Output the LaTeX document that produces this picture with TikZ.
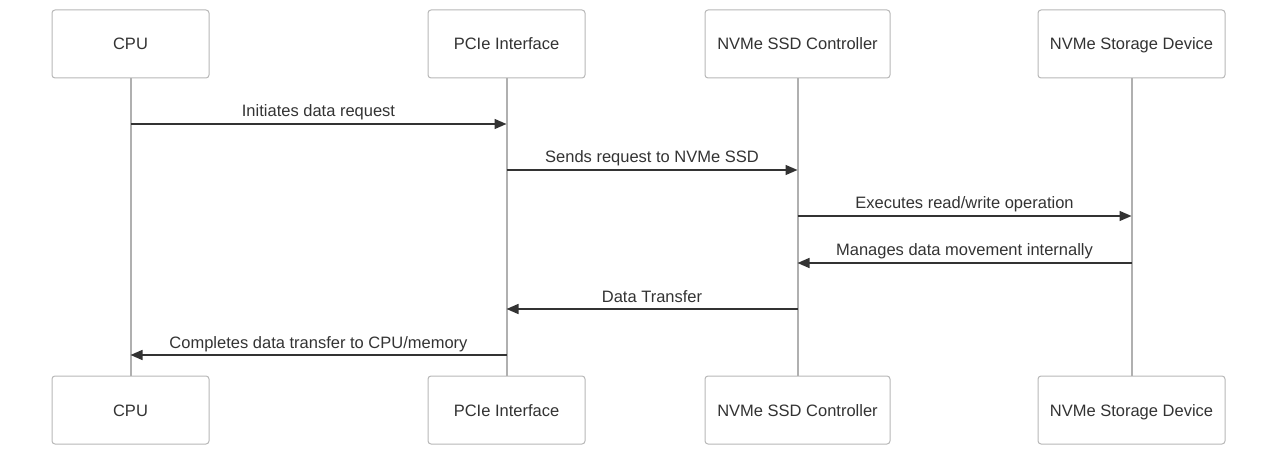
\documentclass[tikz,border=0pt]{standalone}
\usepackage{fontspec}
\setmainfont{Liberation Sans}
\usetikzlibrary{arrows.meta}
\definecolor{txt}{HTML}{333333}
\definecolor{boxline}{HTML}{B8B8B8}
\definecolor{life}{HTML}{B0B0B0}
\definecolor{arr}{HTML}{333333}
\tikzset{
  actor/.style={draw=boxline, line width=1pt, fill=white, rounded corners=3pt, minimum height=68pt, text=txt, font=\fontsize{16.5}{19}\selectfont, inner sep=0pt, text depth=0pt, text height=12pt},
  lifeline/.style={draw=life, line width=2pt},
  msg/.style={draw=arr, line width=1.5pt, -{Triangle[length=12pt,width=10pt]}},
  lbl/.style={text=txt, font=\fontsize{16.5}{19}\selectfont, anchor=base, inner sep=0pt},
}
\begin{document}
\begin{tikzpicture}[x=1pt,y=-1pt]
\useasboundingbox (0,0) rectangle (1280,457);
% top actors
\node[actor, minimum width=157pt] (cpuT) at (130.5,44) {CPU};
\node[actor, minimum width=157pt] (pcieT) at (506.5,44) {PCIe Interface};
\node[actor, minimum width=185pt] (ctrlT) at (797.5,44) {NVMe SSD Controller};
\node[actor, minimum width=187pt] (storT) at (1131.5,44) {NVMe Storage Device};
% bottom actors
\node[actor, minimum width=157pt] (cpuB) at (130.5,410) {CPU};
\node[actor, minimum width=157pt] (pcieB) at (506.5,410) {PCIe Interface};
\node[actor, minimum width=185pt] (ctrlB) at (797.5,410) {NVMe SSD Controller};
\node[actor, minimum width=187pt] (storB) at (1131.5,410) {NVMe Storage Device};
% lifelines
\draw[lifeline] (cpuT.south) -- (cpuB.north);
\draw[lifeline] (pcieT.south) -- (pcieB.north);
\draw[lifeline] (ctrlT.south) -- (ctrlB.north);
\draw[lifeline] (storT.south) -- (storB.north);
% messages
\coordinate (m1a) at (cpuT.south |- 0,124); \coordinate (m1b) at (pcieT.south |- 0,124);
\coordinate (m2a) at (pcieT.south |- 0,170); \coordinate (m2b) at (ctrlT.south |- 0,170);
\coordinate (m3a) at (ctrlT.south |- 0,216); \coordinate (m3b) at (storT.south |- 0,216);
\coordinate (m4a) at (storT.south |- 0,263); \coordinate (m4b) at (ctrlT.south |- 0,263);
\coordinate (m5a) at (ctrlT.south |- 0,309); \coordinate (m5b) at (pcieT.south |- 0,309);
\coordinate (m6a) at (pcieT.south |- 0,355); \coordinate (m6b) at (cpuT.south |- 0,355);
\draw[msg] (m1a) -- (m1b);
\draw[msg] (m2a) -- (m2b);
\draw[msg] (m3a) -- (m3b);
\draw[msg] (m4a) -- (m4b);
\draw[msg] (m5a) -- (m5b);
\draw[msg] (m6a) -- (m6b);
\node[lbl] (l1) at (318.5,117) {Initiates data request};
\node[lbl] (l2) at (652,163) {Sends request to NVMe SSD};
\node[lbl] (l3) at (964.5,209) {Executes read/write operation};
\node[lbl] (l4) at (964.5,255) {Manages data movement internally};
\node[lbl] (l5) at (652,302) {Data Transfer};
\node[lbl] (l6) at (318.5,348) {Completes data transfer to CPU/memory};
\end{tikzpicture}
\end{document}
